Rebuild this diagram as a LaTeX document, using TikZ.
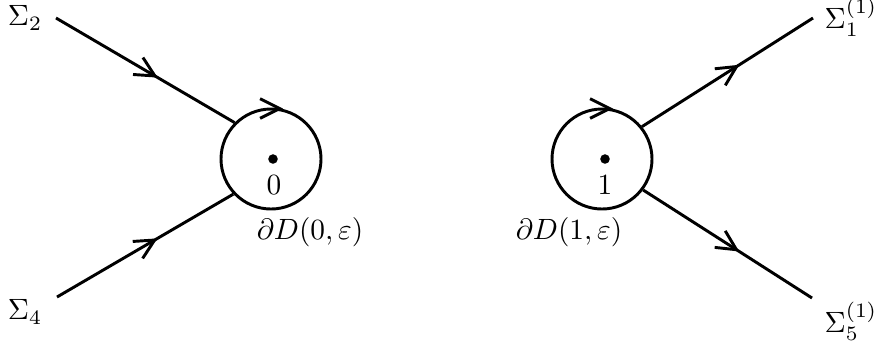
\documentclass[tikz,border=0pt]{standalone}
\usetikzlibrary{arrows.meta,decorations.markings}
\begin{document}
\begin{tikzpicture}[x=0.341pt,y=0.341pt,
  ln/.style={line width=1pt},
  flow/.style={ln, postaction={decorate},
    decoration={markings, mark=at position 0.57 with {\arrow[line width=1pt]{Straight Barb[length=6.7pt,width=6.7pt]}}}},
  tiponly/.style={decorate,
    decoration={markings, mark=at position 1 with {\arrow[line width=1pt]{Straight Barb[length=6.7pt,width=6.7pt]}}}},
  disk/.style={draw, circle, ln, minimum size=34.1pt, inner sep=0pt},
  dot/.style={fill, circle, inner sep=1.15pt}]
\useasboundingbox (0,0) rectangle (878,349);
\node[disk] (C0) at (271,190) {};
\node[disk] (C1) at (602,190) {};
\node[dot] (p0) at (273,190) {};
\node[dot] (p1) at (605,190) {};
\node (n0) at (274,164) {$0$};
\node (n1) at (605,164) {$1$};
\node (s2) at (25,331) {$\Sigma_2$};
\node (s4) at (25,37) {$\Sigma_4$};
\node (s1) at (851,332) {$\Sigma_1^{(1)}$};
\node (s5) at (851,28) {$\Sigma_5^{(1)}$};
\node (d0) at (310,117) {$\partial D(0,\varepsilon)$};
\node (d1) at (569,117) {$\partial D(1,\varepsilon)$};
\coordinate (e2) at (56,331);
\coordinate (e4) at (57,52);
\coordinate (e1) at (813,331);
\coordinate (e5) at (812,51);
\draw[flow] (e2) -- (C0.135);
\draw[flow] (e4) -- (C0.223);
\draw[flow] (C1.39) -- (e1);
\draw[flow] (C1.-37) -- (e5);
\coordinate (t0) at (283,240.5);
\coordinate (t1) at (613,240.5);
\path[tiponly] (t0) ++(-20,0) -- (t0);
\path[tiponly] (t1) ++(-20,0) -- (t1);
\end{tikzpicture}
\end{document}
